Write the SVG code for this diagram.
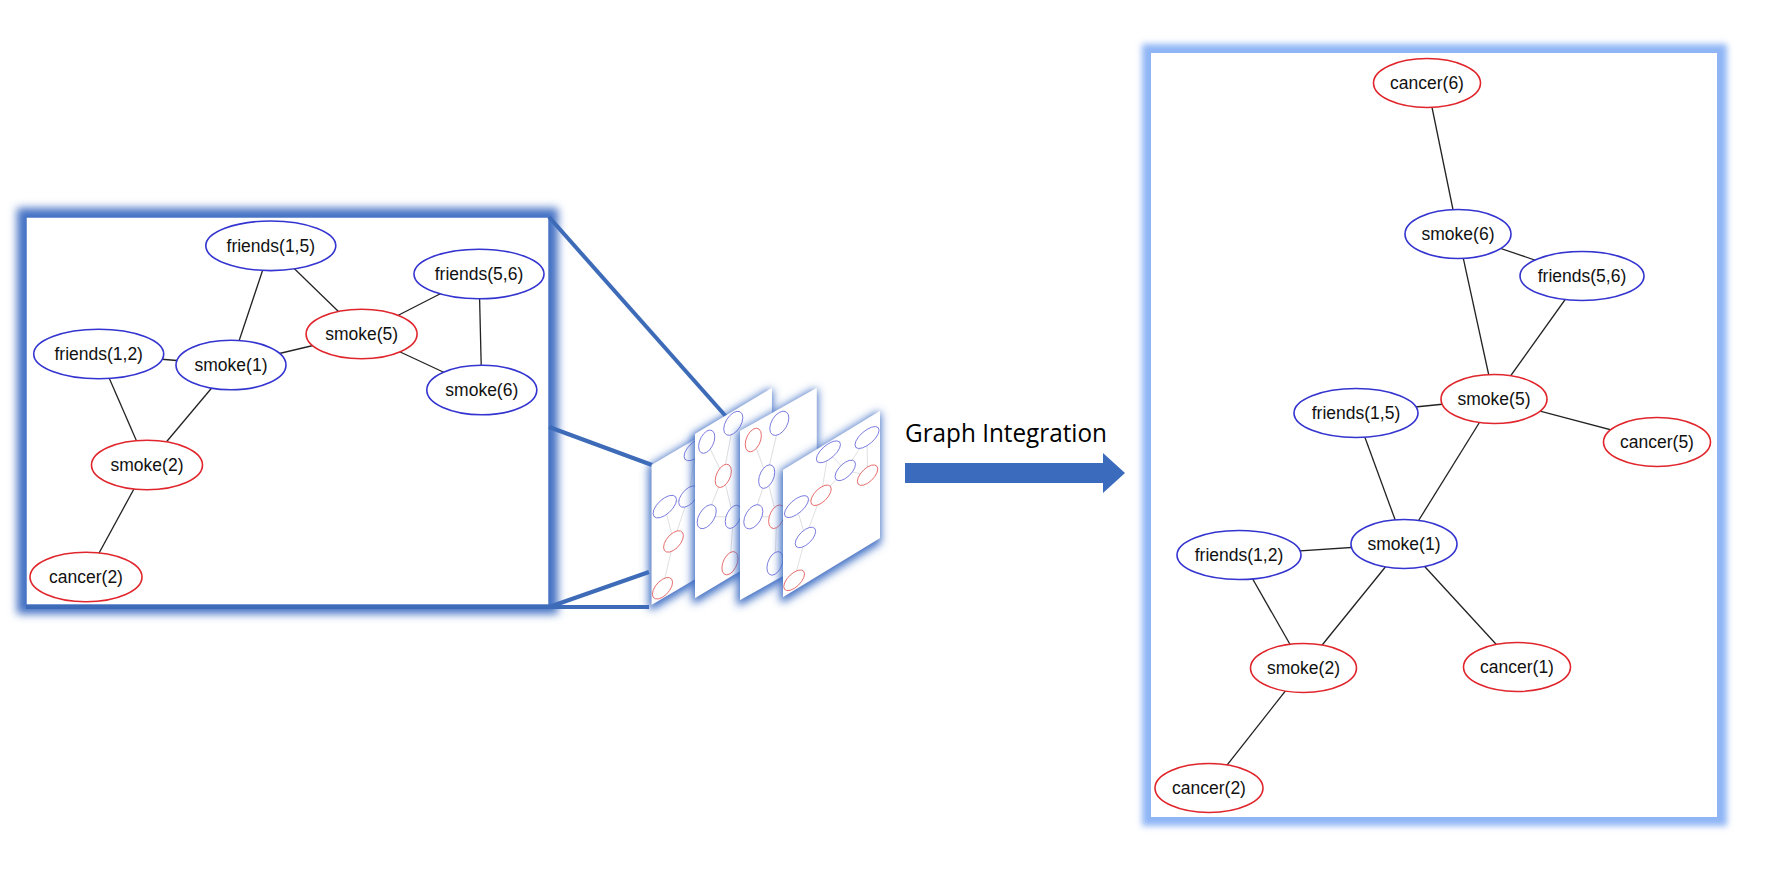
<svg xmlns="http://www.w3.org/2000/svg" width="1776" height="892" viewBox="0 0 1776 892">
<defs>
<style>
.nb{fill:#fff;stroke:#3434d0;stroke-width:1.6}
.nr{fill:#fff;stroke:#e0262c;stroke-width:1.6}
.lbl{font-family:"Liberation Sans",Arial,Helvetica,sans-serif;font-size:17.5px;fill:#111;text-anchor:middle}
.edge{stroke:#222;stroke-width:1.3}
.tb{fill:#fff;stroke:#5a5ad8;stroke-width:0.8;vector-effect:non-scaling-stroke}
.tr{fill:#fff;stroke:#e04848;stroke-width:0.8;vector-effect:non-scaling-stroke}
.te{stroke:#444;stroke-width:0.6;vector-effect:non-scaling-stroke}
.zl{stroke:#3d6bb8;stroke-width:4;fill:none}
.sheet{fill:#fff;filter:url(#sg)}
</style>
<filter id="blurL" x="-10%" y="-10%" width="120%" height="120%"><feGaussianBlur stdDeviation="4"/></filter>
<filter id="blurR" x="-10%" y="-10%" width="120%" height="120%"><feGaussianBlur stdDeviation="3"/></filter>
<filter id="sg" x="-40%" y="-30%" width="180%" height="160%">
<feMorphology in="SourceAlpha" operator="dilate" radius="2" result="d"/>
<feGaussianBlur in="d" stdDeviation="4" result="b"/>
<feFlood flood-color="#3f6fc4"/>
<feComposite in2="b" operator="in" result="g"/>
<feOffset dx="-1" dy="3" result="o"/>
<feMerge><feMergeNode in="o"/><feMergeNode in="SourceGraphic"/></feMerge>
</filter>
</defs>
<rect width="1776" height="892" fill="#fff"/>

<!-- left panel frame -->
<g id="left-panel">
<rect x="17" y="208" width="541" height="406" fill="#4472c4" filter="url(#blurL)"/>
<rect x="26" y="217" width="523" height="388" fill="#fff"/>
<rect x="26" y="217" width="523" height="388" fill="none" stroke="#4a76c6" stroke-width="1.5"/>
</g>

<!-- right panel frame -->
<g id="right-panel">
<rect x="1142" y="44" width="585" height="782" fill="#8fb5f6" filter="url(#blurR)"/>
<rect x="1151" y="53" width="566" height="764" fill="#fff"/>
</g>

<!-- zoom lines -->
<g id="zoom-lines">
<line class="zl" x1="549" y1="217" x2="730" y2="421"/>
<line class="zl" x1="549" y1="427" x2="652" y2="465"/>
<line class="zl" x1="549" y1="607" x2="649" y2="572"/>
<line class="zl" x1="26" y1="607" x2="649" y2="607"/>
</g>

<!-- left graph connectors -->
<g id="left-edges" class="edge">
<line x1="270.8" y1="245.8" x2="231" y2="365"/>
<line x1="270.8" y1="245.8" x2="361.6" y2="334"/>
<line x1="361.6" y1="334" x2="231" y2="365"/>
<line x1="361.6" y1="334" x2="479" y2="274"/>
<line x1="361.6" y1="334" x2="481.8" y2="390"/>
<line x1="479" y1="274" x2="481.8" y2="390"/>
<line x1="98.7" y1="354" x2="231" y2="365"/>
<line x1="98.7" y1="354" x2="147" y2="465"/>
<line x1="231" y1="365" x2="147" y2="465"/>
<line x1="147" y1="465" x2="86" y2="577"/>
</g>

<!-- left graph nodes -->
<g id="L-friends15"><ellipse class="nb" cx="270.8" cy="245.8" rx="65" ry="24.8"/><text class="lbl" x="270.8" y="251.8">friends(1,5)</text></g>
<g id="L-friends56"><ellipse class="nb" cx="479" cy="274" rx="65" ry="24.8"/><text class="lbl" x="479" y="280">friends(5,6)</text></g>
<g id="L-smoke5"><ellipse class="nr" cx="361.6" cy="334" rx="55.5" ry="24.8"/><text class="lbl" x="361.6" y="340">smoke(5)</text></g>
<g id="L-friends12"><ellipse class="nb" cx="98.7" cy="354" rx="65" ry="24.8"/><text class="lbl" x="98.7" y="360">friends(1,2)</text></g>
<g id="L-smoke1"><ellipse class="nb" cx="231" cy="365" rx="55" ry="24.8"/><text class="lbl" x="231" y="371">smoke(1)</text></g>
<g id="L-smoke6"><ellipse class="nb" cx="481.8" cy="390" rx="55" ry="24.8"/><text class="lbl" x="481.8" y="396">smoke(6)</text></g>
<g id="L-smoke2"><ellipse class="nr" cx="147" cy="465" rx="55.5" ry="24.8"/><text class="lbl" x="147" y="471">smoke(2)</text></g>
<g id="L-cancer2"><ellipse class="nr" cx="86" cy="577" rx="56" ry="24.8"/><text class="lbl" x="86" y="583">cancer(2)</text></g>

<!-- stack of graph sheets -->
<g id="sheet1">
<polygon class="sheet" points="651.7,465 745.8,409.6 745.8,549.3 651.7,604.7"/>
<g transform="matrix(0.18,-0.106,0,0.36,651.7,465)">
<g class="te">
<line x1="244.8" y1="28.8" x2="205" y2="148"/><line x1="244.8" y1="28.8" x2="335.6" y2="117"/><line x1="335.6" y1="117" x2="205" y2="148"/><line x1="335.6" y1="117" x2="453" y2="57"/><line x1="335.6" y1="117" x2="455.8" y2="173"/><line x1="453" y1="57" x2="455.8" y2="173"/><line x1="72.7" y1="137" x2="205" y2="148"/><line x1="72.7" y1="137" x2="121" y2="248"/><line x1="205" y1="148" x2="121" y2="248"/><line x1="121" y1="248" x2="60" y2="360"/>
</g>
<ellipse class="tb" cx="244.8" cy="28.8" rx="65" ry="25"/><ellipse class="tb" cx="453" cy="57" rx="65" ry="25"/><ellipse class="tr" cx="335.6" cy="117" rx="55" ry="25"/><ellipse class="tb" cx="72.7" cy="137" rx="65" ry="25"/><ellipse class="tb" cx="205" cy="148" rx="55" ry="25"/><ellipse class="tb" cx="455.8" cy="173" rx="55" ry="25"/><ellipse class="tr" cx="121" cy="248" rx="55" ry="25"/><ellipse class="tr" cx="60" cy="360" rx="56" ry="25"/>
</g>
</g>
<g id="sheet2">
<polygon class="sheet" points="695,434 771.9,388 771.9,552.1 695,598.1"/>
<g transform="matrix(0.147,-0.088,0,0.423,695,434)">
<g class="te">
<line x1="79.6" y1="34.8" x2="192.5" y2="139"/><line x1="260.5" y1="28.9" x2="192.5" y2="139"/><line x1="192.5" y1="139" x2="79.6" y2="212"/><line x1="192.5" y1="139" x2="260.5" y2="250"/><line x1="79.6" y1="212" x2="260.5" y2="250"/><line x1="260.5" y1="250" x2="238" y2="355"/>
</g>
<ellipse class="tb" cx="79.6" cy="34.8" rx="55" ry="25"/><ellipse class="tb" cx="260.5" cy="28.9" rx="65" ry="25"/><ellipse class="tr" cx="192.5" cy="139" rx="55" ry="25"/><ellipse class="tb" cx="79.6" cy="212" rx="65" ry="25"/><ellipse class="tb" cx="260.5" cy="250" rx="55" ry="25"/><ellipse class="tr" cx="238" cy="355" rx="55" ry="25"/>
</g>
</g>
<g id="sheet3">
<polygon class="sheet" points="740,431 816.7,388 816.7,557 740,600"/>
<g transform="matrix(0.1467,-0.0822,0,0.4356,740,431)">
<g class="te">
<line x1="90.7" y1="37.8" x2="182" y2="139"/><line x1="268" y1="32.9" x2="182" y2="139"/><line x1="182" y1="139" x2="90.7" y2="214"/><line x1="182" y1="139" x2="250" y2="244"/><line x1="90.7" y1="214" x2="250" y2="244"/><line x1="250" y1="244" x2="238.6" y2="349"/>
</g>
<ellipse class="tr" cx="90.7" cy="37.8" rx="55" ry="25"/><ellipse class="tb" cx="268" cy="32.9" rx="65" ry="25"/><ellipse class="tb" cx="182" cy="139" rx="55" ry="25"/><ellipse class="tb" cx="90.7" cy="214" rx="65" ry="25"/><ellipse class="tr" cx="250" cy="244" rx="55" ry="25"/><ellipse class="tb" cx="238.6" cy="349" rx="55" ry="25"/>
</g>
</g>
<g id="sheet4">
<polygon class="sheet" points="783,470 880,411 880,537.9 783,596.9"/>
<g transform="matrix(0.1855,-0.1128,0,0.327,783,470)">
<g class="te">
<line x1="244.8" y1="28.8" x2="205" y2="148"/><line x1="244.8" y1="28.8" x2="335.6" y2="117"/><line x1="335.6" y1="117" x2="205" y2="148"/><line x1="335.6" y1="117" x2="453" y2="57"/><line x1="335.6" y1="117" x2="455.8" y2="173"/><line x1="453" y1="57" x2="455.8" y2="173"/><line x1="72.7" y1="137" x2="205" y2="148"/><line x1="72.7" y1="137" x2="121" y2="248"/><line x1="205" y1="148" x2="121" y2="248"/><line x1="121" y1="248" x2="60" y2="358"/>
</g>
<ellipse class="tb" cx="244.8" cy="28.8" rx="65" ry="25"/><ellipse class="tb" cx="453" cy="57" rx="65" ry="25"/><ellipse class="tb" cx="335.6" cy="117" rx="55" ry="25"/><ellipse class="tb" cx="72.7" cy="137" rx="65" ry="25"/><ellipse class="tr" cx="205" cy="148" rx="55" ry="25"/><ellipse class="tr" cx="455.8" cy="173" rx="55" ry="25"/><ellipse class="tb" cx="121" cy="248" rx="55" ry="25"/><ellipse class="tr" cx="60" cy="358" rx="56" ry="25"/>
</g>
</g>

<!-- integration arrow -->
<g id="integration">
<text x="905" y="442" font-family="'Open Sans','Noto Sans','Liberation Sans',sans-serif" font-size="25" fill="#000" textLength="202" lengthAdjust="spacingAndGlyphs">Graph Integration</text>
<polygon points="905,463 1103,463 1103,453 1125,473 1103,493 1103,483 905,483" fill="#3a6bbd"/>
</g>

<!-- right graph connectors -->
<g id="right-edges" class="edge">
<line x1="1427" y1="83" x2="1458" y2="234"/>
<line x1="1458" y1="234" x2="1582" y2="276"/>
<line x1="1458" y1="234" x2="1494" y2="399"/>
<line x1="1582" y1="276" x2="1494" y2="399"/>
<line x1="1356" y1="413" x2="1494" y2="399"/>
<line x1="1494" y1="399" x2="1657" y2="442"/>
<line x1="1356" y1="413" x2="1404" y2="544"/>
<line x1="1494" y1="399" x2="1404" y2="544"/>
<line x1="1239" y1="555" x2="1404" y2="544"/>
<line x1="1239" y1="555" x2="1303.5" y2="668"/>
<line x1="1404" y1="544" x2="1303.5" y2="668"/>
<line x1="1404" y1="544" x2="1517" y2="667"/>
<line x1="1303.5" y1="668" x2="1209" y2="788"/>
</g>

<!-- right graph nodes -->
<g id="R-cancer6"><ellipse class="nr" cx="1427" cy="83" rx="53.5" ry="24.5"/><text class="lbl" x="1427" y="89">cancer(6)</text></g>
<g id="R-smoke6"><ellipse class="nb" cx="1458" cy="234" rx="53" ry="24.5"/><text class="lbl" x="1458" y="240">smoke(6)</text></g>
<g id="R-friends56"><ellipse class="nb" cx="1582" cy="276" rx="62" ry="24.5"/><text class="lbl" x="1582" y="282">friends(5,6)</text></g>
<g id="R-smoke5"><ellipse class="nr" cx="1494" cy="399" rx="53" ry="24.5"/><text class="lbl" x="1494" y="405">smoke(5)</text></g>
<g id="R-friends15"><ellipse class="nb" cx="1356" cy="413" rx="62" ry="24.5"/><text class="lbl" x="1356" y="419">friends(1,5)</text></g>
<g id="R-cancer5"><ellipse class="nr" cx="1657" cy="442" rx="53.5" ry="24.5"/><text class="lbl" x="1657" y="448">cancer(5)</text></g>
<g id="R-smoke1"><ellipse class="nb" cx="1404" cy="544" rx="53" ry="24.5"/><text class="lbl" x="1404" y="550">smoke(1)</text></g>
<g id="R-friends12"><ellipse class="nb" cx="1239" cy="555" rx="62" ry="24.5"/><text class="lbl" x="1239" y="561">friends(1,2)</text></g>
<g id="R-smoke2"><ellipse class="nr" cx="1303.5" cy="668" rx="53" ry="24.5"/><text class="lbl" x="1303.5" y="674">smoke(2)</text></g>
<g id="R-cancer1"><ellipse class="nr" cx="1517" cy="667" rx="53.5" ry="24.5"/><text class="lbl" x="1517" y="673">cancer(1)</text></g>
<g id="R-cancer2"><ellipse class="nr" cx="1209" cy="788" rx="54" ry="24.5"/><text class="lbl" x="1209" y="794">cancer(2)</text></g>
</svg>
